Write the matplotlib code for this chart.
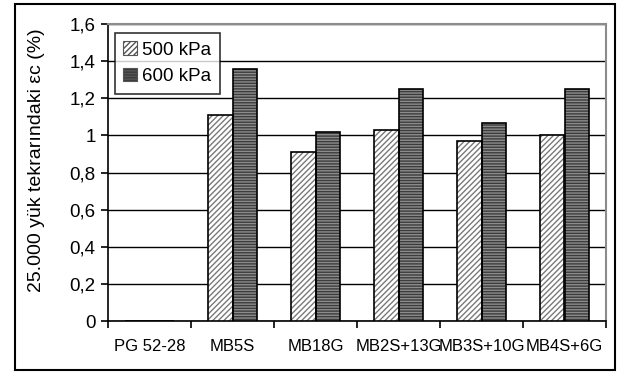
import numpy as np
import matplotlib
matplotlib.use("Agg")
import matplotlib.pyplot as plt
from matplotlib.patches import Rectangle, Patch
from matplotlib.ticker import FuncFormatter

plt.rcParams['font.family'] = ['Liberation Sans', 'DejaVu Sans']
plt.rcParams['hatch.linewidth'] = 1.0

# mixtures and permanent strain after 25,000 load repetitions
mixes = ["PG 52-28", "MB5S", "MB18G", "MB2S+13G", "MB3S+10G", "MB4S+6G"]
strain_500 = [0, 1.11, 0.91, 1.03, 0.97, 1.00]
strain_600 = [0, 1.36, 1.02, 1.25, 1.065, 1.25]
yticks = [0, 0.2, 0.4, 0.6, 0.8, 1.0, 1.2, 1.4, 1.6]

fig = plt.figure(figsize=(6.22, 3.74), dpi=100)
ax = fig.add_axes([108/622, 53/374, 498/622, 297/374])

x = np.arange(len(mixes))
w = 0.3

# 500 kPa: white with grey diagonal lines
ax.bar(x - w/2, strain_500, w, color='white', hatch='//////', edgecolor='#7a7a7a', linewidth=0, zorder=3)
ax.bar(x - w/2, strain_500, w, fill=False, edgecolor='black', linewidth=1.2, zorder=4)
# 600 kPa: dark grey with light horizontal lines
ax.bar(x + w/2, strain_600, w, color='#3c3c3c', hatch='------', edgecolor='#8c8c8c', linewidth=0, zorder=3)
ax.bar(x + w/2, strain_600, w, fill=False, edgecolor='black', linewidth=1.2, zorder=4)

ax.set_xlim(-0.5, len(mixes) - 0.5)
ax.set_ylim(0, 1.6)
ax.set_yticks(yticks)
ax.yaxis.set_major_formatter(FuncFormatter(lambda v, p: ('%g' % round(v, 1)).replace('.', ',')))
ax.yaxis.grid(True, color='black', linewidth=1.0, zorder=1)
ax.set_axisbelow(True)

ax.set_xticks(x)
ax.set_xticklabels(mixes, fontsize=12)
ax.tick_params(axis='x', length=0, pad=13)
ax.set_xticks(np.arange(len(mixes) + 1) - 0.5, minor=True)
ax.tick_params(axis='x', which='minor', length=5, width=1.2, direction='out')
ax.tick_params(axis='y', length=5, width=1.2, direction='out', labelsize=13.5, pad=4)

for s in ['top', 'right']:
    ax.spines[s].set_color('#8c8c8c')
    ax.spines[s].set_linewidth(1.5)
for s in ['left', 'bottom']:
    ax.spines[s].set_color('black')
    ax.spines[s].set_linewidth(1.2)

fig.text(37/622, 1 - 160/374, "25.000 yük tekrarındaki εc (%)", rotation=90,
         ha='center', va='center', fontsize=14)

h500 = Patch(facecolor='white', hatch='//////', edgecolor='#555555', linewidth=0.8)
h600 = Patch(facecolor='#3c3c3c', hatch='------', edgecolor='#555555', linewidth=0.8)
leg = ax.legend([h500, h600], ["500 kPa", "600 kPa"], loc='upper left',
                bbox_to_anchor=(115/622, 1 - 33/374), bbox_transform=fig.transFigure,
                fontsize=13.5, frameon=True, fancybox=False, edgecolor='black',
                handlelength=0.7, handleheight=0.7, handletextpad=0.3,
                borderpad=0.45, labelspacing=0.5, borderaxespad=0)
leg.get_frame().set_linewidth(1.2)
leg.set_zorder(10)

# outer chart border
fig.patches.append(Rectangle((15/622, 4/374), 600/622, 366/374, transform=fig.transFigure,
                             fill=False, edgecolor='black', linewidth=1.5))

fig.savefig("out.png", dpi=100)
